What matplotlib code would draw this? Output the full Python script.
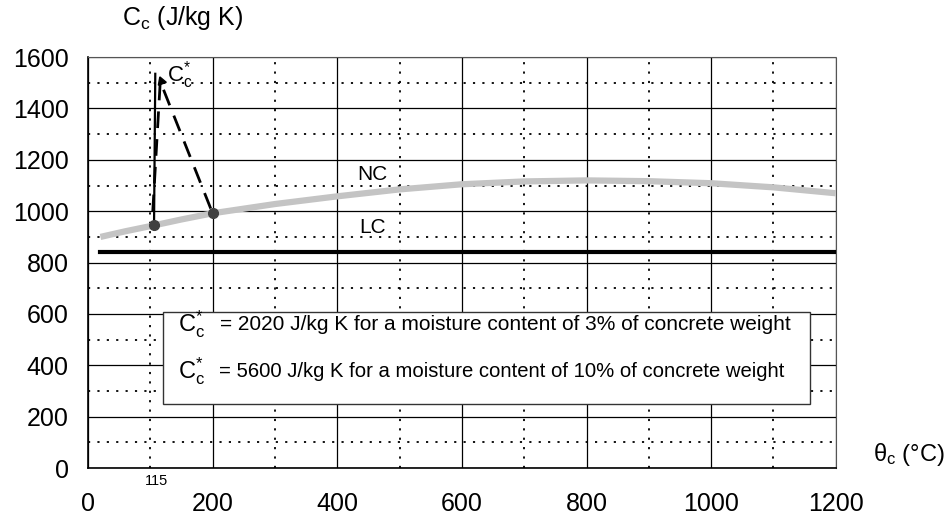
import numpy as np
import matplotlib.pyplot as plt
from matplotlib.ticker import MultipleLocator

plt.rcParams['font.family'] = ['Liberation Sans', 'DejaVu Sans']
plt.rcParams['mathtext.fontset'] = 'custom'
plt.rcParams['mathtext.rm'] = 'Liberation Sans'
plt.rcParams['mathtext.it'] = 'Liberation Sans:italic'

# --- data ---
nc_temp = [20, 60, 106, 150, 200, 300, 400, 500, 600, 700, 800, 900, 1000, 1100, 1200]
nc_cap = [900, 922, 945, 968, 992, 1028, 1058, 1085, 1105, 1116, 1120, 1117, 1109, 1093, 1070]

lc_temp = [20, 1200]
lc_cap = [840, 840]

peak_solid_temp = [106, 108]
peak_solid_cap = [945, 1535]
peak_dash_temp = [104, 116, 200]
peak_dash_cap = [1000, 1505, 992]

dot_temp = [106, 200]
dot_cap = [945, 992]

x_ticks = [0, 200, 400, 600, 800, 1000, 1200]
y_ticks = [0, 200, 400, 600, 800, 1000, 1200, 1400, 1600]

fig = plt.figure(figsize=(9.49, 5.19), dpi=100)
ax = fig.add_axes([0.0927, 0.098, 0.788, 0.792])

ax.set_xlim(0, 1200)
ax.set_ylim(0, 1600)
ax.set_xticks(x_ticks)
ax.set_yticks(y_ticks)
ax.xaxis.set_minor_locator(MultipleLocator(100))
ax.yaxis.set_minor_locator(MultipleLocator(100))
ax.tick_params(which='both', length=0, labelsize=18)
ax.tick_params(axis='x', pad=17)
ax.tick_params(axis='y', pad=14)

ax.grid(which='major', color='black', lw=0.9, ls='-')
ax.grid(which='minor', color='black', lw=1.3, ls=(0, (1.2, 4)))
ax.set_axisbelow(True)

for s in ['top', 'right']:
    ax.spines[s].set_linestyle((0, (1, 1)))
    ax.spines[s].set_linewidth(0.8)
    ax.spines[s].set_color('#555555')
for s in ['left', 'bottom']:
    ax.spines[s].set_linewidth(1.2)

# curves
ax.plot(nc_temp, nc_cap, color='#c4c4c4', lw=4.5, solid_capstyle='butt', zorder=3)
ax.plot(lc_temp, lc_cap, color='black', lw=3, zorder=3)
ax.plot(peak_solid_temp, peak_solid_cap, color='black', lw=1.6, zorder=4)
ax.plot(peak_dash_temp, peak_dash_cap, color='black', lw=2, ls=(0, (6, 4)), zorder=4)
ax.plot(dot_temp, dot_cap, 'o', color='#404040', ms=7, zorder=5)
ax.plot([117], [1505], marker=(3, 0, 20), color='black', ms=7, zorder=5)

# 115 marker
ax.text(110, -22, '115', fontsize=10.5, ha='center', va='top')

ax.text(456, 1144, 'NC', fontsize=15, ha='center', va='center')
ax.text(456, 938, 'LC', fontsize=15, ha='center', va='center')
ax.text(127, 1530, r'C$_\mathrm{c}^{*}$', fontsize=16, ha='left', va='center')

# box with notes
box = plt.Rectangle((120, 249), 1039, 360, facecolor='white', edgecolor='#333333',
                    lw=1, zorder=6)
ax.add_patch(box)
ax.text(145, 560, r'C$_\mathrm{c}^{*}$', fontsize=17, va='center', zorder=7)
ax.text(212, 560, '= 2020 J/kg K for a moisture content of 3% of concrete weight',
        fontsize=15, va='center', zorder=7)
ax.text(145, 377, r'C$_\mathrm{c}^{*}$', fontsize=17, va='center', zorder=7)
ax.text(210, 377, '= 5600 J/kg K for a moisture content of 10% of concrete weight',
        fontsize=14.6, va='center', zorder=7)

fig.text(183 / 949, 1 - 18 / 519, r'C$_\mathrm{c}$ (J/kg K)', fontsize=18,
         ha='center', va='center')
fig.text(909 / 949, 1 - 455 / 519, r'θ$_\mathrm{c}$ (°C)', fontsize=17,
         ha='center', va='center')

fig.savefig('out.png', dpi=100)
